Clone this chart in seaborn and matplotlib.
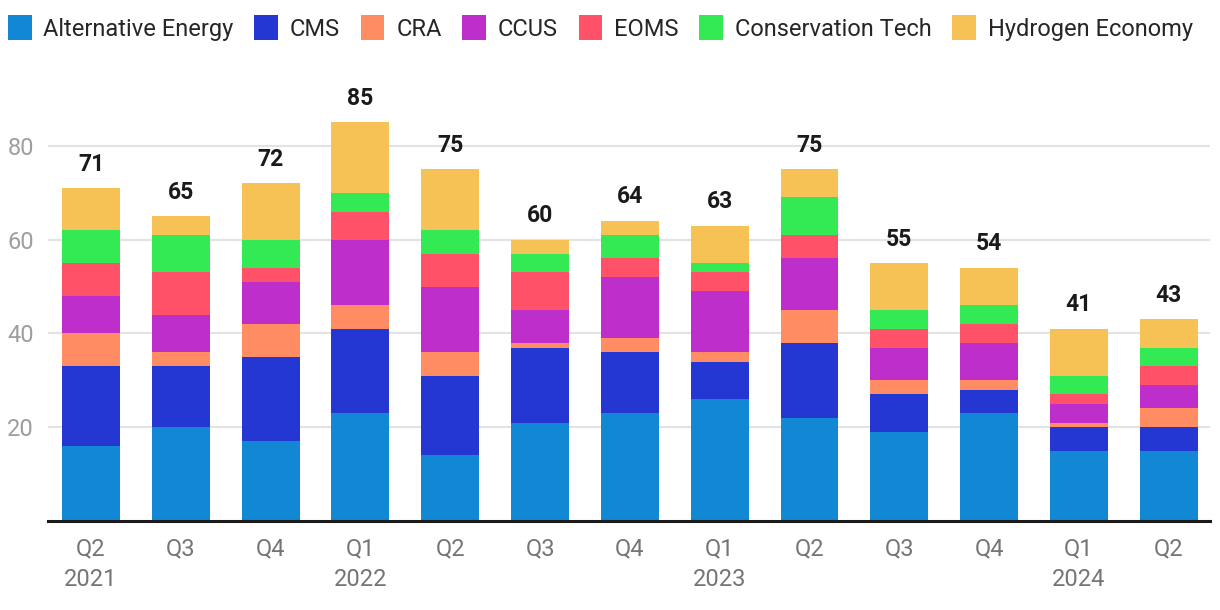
import numpy as np
import pandas as pd
import matplotlib
matplotlib.use("Agg")
import matplotlib.pyplot as plt
from matplotlib.patches import Patch
import seaborn as sns

# ---------------------------------------------------------------------
# DATA
# ---------------------------------------------------------------------
periods = ["Q2 2021", "Q3 2021", "Q4 2021", "Q1 2022", "Q2 2022", "Q3 2022", "Q4 2022",
           "Q1 2023", "Q2 2023", "Q3 2023", "Q4 2023", "Q1 2024", "Q2 2024"]
tick_labels = ["Q2\n2021", "Q3", "Q4", "Q1\n2022", "Q2", "Q3", "Q4",
               "Q1\n2023", "Q2", "Q3", "Q4", "Q1\n2024", "Q2"]

series_names = ["Alternative Energy", "CMS", "CRA", "CCUS", "EOMS",
                "Conservation Tech", "Hydrogen Economy"]
alt_energy = [16, 20, 17, 23, 14, 21, 23, 26, 22, 19, 23, 15, 15]
cms = [17, 13, 18, 18, 17, 16, 13, 8, 16, 8, 5, 5, 5]
cra = [7, 3, 7, 5, 5, 1, 3, 2, 7, 3, 2, 1, 4]
ccus = [8, 8, 9, 14, 14, 7, 13, 13, 11, 7, 8, 4, 5]
eoms = [7, 9, 3, 6, 7, 8, 4, 4, 5, 4, 4, 2, 4]
conservation = [7, 8, 6, 4, 5, 4, 5, 2, 8, 4, 4, 4, 4]
hydrogen = [9, 4, 12, 15, 13, 3, 3, 8, 6, 10, 8, 10, 6]

colors = ["#1287D4", "#2437D3", "#FF8C62", "#BE2ECA", "#FF5268", "#33EA54", "#F6C155"]

df = pd.DataFrame({
    "period": periods,
    "Alternative Energy": alt_energy,
    "CMS": cms,
    "CRA": cra,
    "CCUS": ccus,
    "EOMS": eoms,
    "Conservation Tech": conservation,
    "Hydrogen Economy": hydrogen,
})
cum = df[series_names].cumsum(axis=1)
totals = cum[series_names[-1]]

# ---------------------------------------------------------------------
# PLOT
# ---------------------------------------------------------------------
sns.set_theme(style="white")
plt.rcParams["font.family"] = ["Roboto", "DejaVu Sans"]

fig = plt.figure(figsize=(12.2, 6.1), dpi=100)
ax = fig.add_axes([0.0393, 0.1459, 0.9525, 0.6918])

# stacked bars: draw cumulative totals from the top layer down
for name, col in reversed(list(zip(series_names, colors))):
    sns.barplot(x=df["period"], y=cum[name], color=col, saturation=1,
                width=0.645, ax=ax, zorder=3, edgecolor="none", linewidth=0)

for i, t in enumerate(totals):
    ax.annotate(f"{t}", (i, t), xytext=(0, 9), textcoords="offset points",
                ha="center", va="bottom", fontsize=16.5, fontweight="bold",
                color="#1a1a1a", clip_on=False)

ax.set_xlim(-0.48, 12.46)
ax.set_ylim(0, 90)
ax.set_yticks([20, 40, 60, 80])
ax.set_xticks(range(len(periods)))
ax.set_xticklabels(tick_labels, fontsize=17, color="#757575", linespacing=1.4)
ax.tick_params(axis="y", labelsize=17, labelcolor="#9e9e9e", length=0, pad=10)
ax.tick_params(axis="x", length=0, pad=12)
ax.set_xlabel("")
ax.set_ylabel("")
ax.yaxis.grid(True, color="#e3e3e3", linewidth=1.5, zorder=0)
ax.set_axisbelow(True)
for side in ["top", "right", "left"]:
    ax.spines[side].set_visible(False)
ax.spines["bottom"].set_color("#1a1a1a")
ax.spines["bottom"].set_linewidth(2.2)
ax.spines["bottom"].set_zorder(4)

handles = [Patch(facecolor=c, edgecolor="none") for c in colors]
fig.legend(handles, series_names, loc="center left",
           bbox_to_anchor=(8 / 1220, 1 - 28 / 610),
           ncol=7, frameon=False, fontsize=17, handlelength=1.0, handleheight=1.2,
           handletextpad=0.5, columnspacing=0.88, borderpad=0, borderaxespad=0)

fig.savefig("out.png", dpi=100)
